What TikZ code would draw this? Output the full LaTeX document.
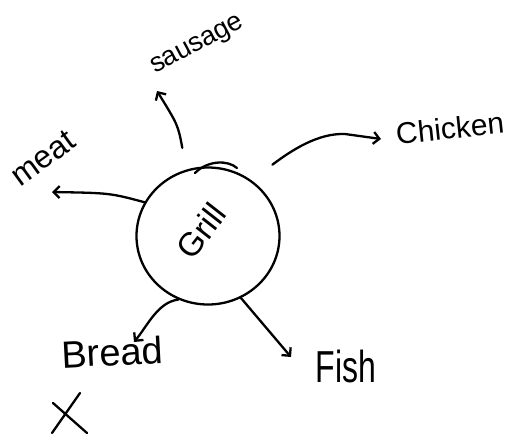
\documentclass[tikz,border=0pt]{standalone}
\usepackage{fontspec}
\setmainfont{Liberation Sans}
\usetikzlibrary{arrows.meta,shapes.geometric}
\begin{document}
\begin{tikzpicture}[x=1pt,y=-1pt,
  ink/.style={line width=2.3pt, line cap=round, line join=round},
  arr/.style={ink, -{Straight Barb[length=6pt,width=12pt]}},
  word/.style={inner sep=0pt, anchor=center},
]
\useasboundingbox (0,0) rectangle (514,440);
\fill[white] (0,0) rectangle (514,440);

% central grill
\node[ink, draw, ellipse, minimum width=143pt, minimum height=137pt] (grill) at (208,236) {};
\node[word, rotate=52, font=\fontsize{33}{33}\selectfont] (grilltxt) at (201,231) {Grill};
% second pen stroke over the top of the circle
\draw[ink] (195,173) .. controls (208,160) and (228,160) .. (237,168);

% labels
\node[word, rotate=28, font=\fontsize{27}{27}\selectfont] (sausage) at (198,46) {sausage};
\node[word, rotate=36, font=\fontsize{32}{32}\selectfont] (meat) at (43,158) {meat};
\node[word, rotate=6, font=\fontsize{30}{30}\selectfont] (chicken) at (450,128) {Chicken};
\node[word, rotate=3, font=\fontsize{38}{38}\selectfont] (bread) at (112,352) {Bread};
\node[word, yscale=1.4, font=\fontsize{32}{32}\selectfont] (fish) at (346,366) {Fish};

% arrow tips beside the labels
\coordinate (sausagetip) at (157,91);
\coordinate (meattip) at (52,192);
\coordinate (chickentip) at (381,139);
\coordinate (breadtip) at (134,342);
\coordinate (fishtip) at (291,357);

% connectors
\draw[arr, shorten <=22pt] (grill.108) .. controls (178,125) .. (sausagetip);
\draw[arr] (grill.152) .. controls (110,193) .. (meattip);
\draw[arr, shorten <=26pt] (grill.52) .. controls (292,150) and (318,133) .. (345,134) -- (chickentip);
\draw[arr] (grill.245) .. controls (158,302) and (148,325) .. (breadtip);
\draw[arr] (grill.298) -- (fishtip);

% cross mark
\draw[ink] (80,393) -- (52,433);
\draw[ink] (53,403) -- (87,433);
\end{tikzpicture}
\end{document}
